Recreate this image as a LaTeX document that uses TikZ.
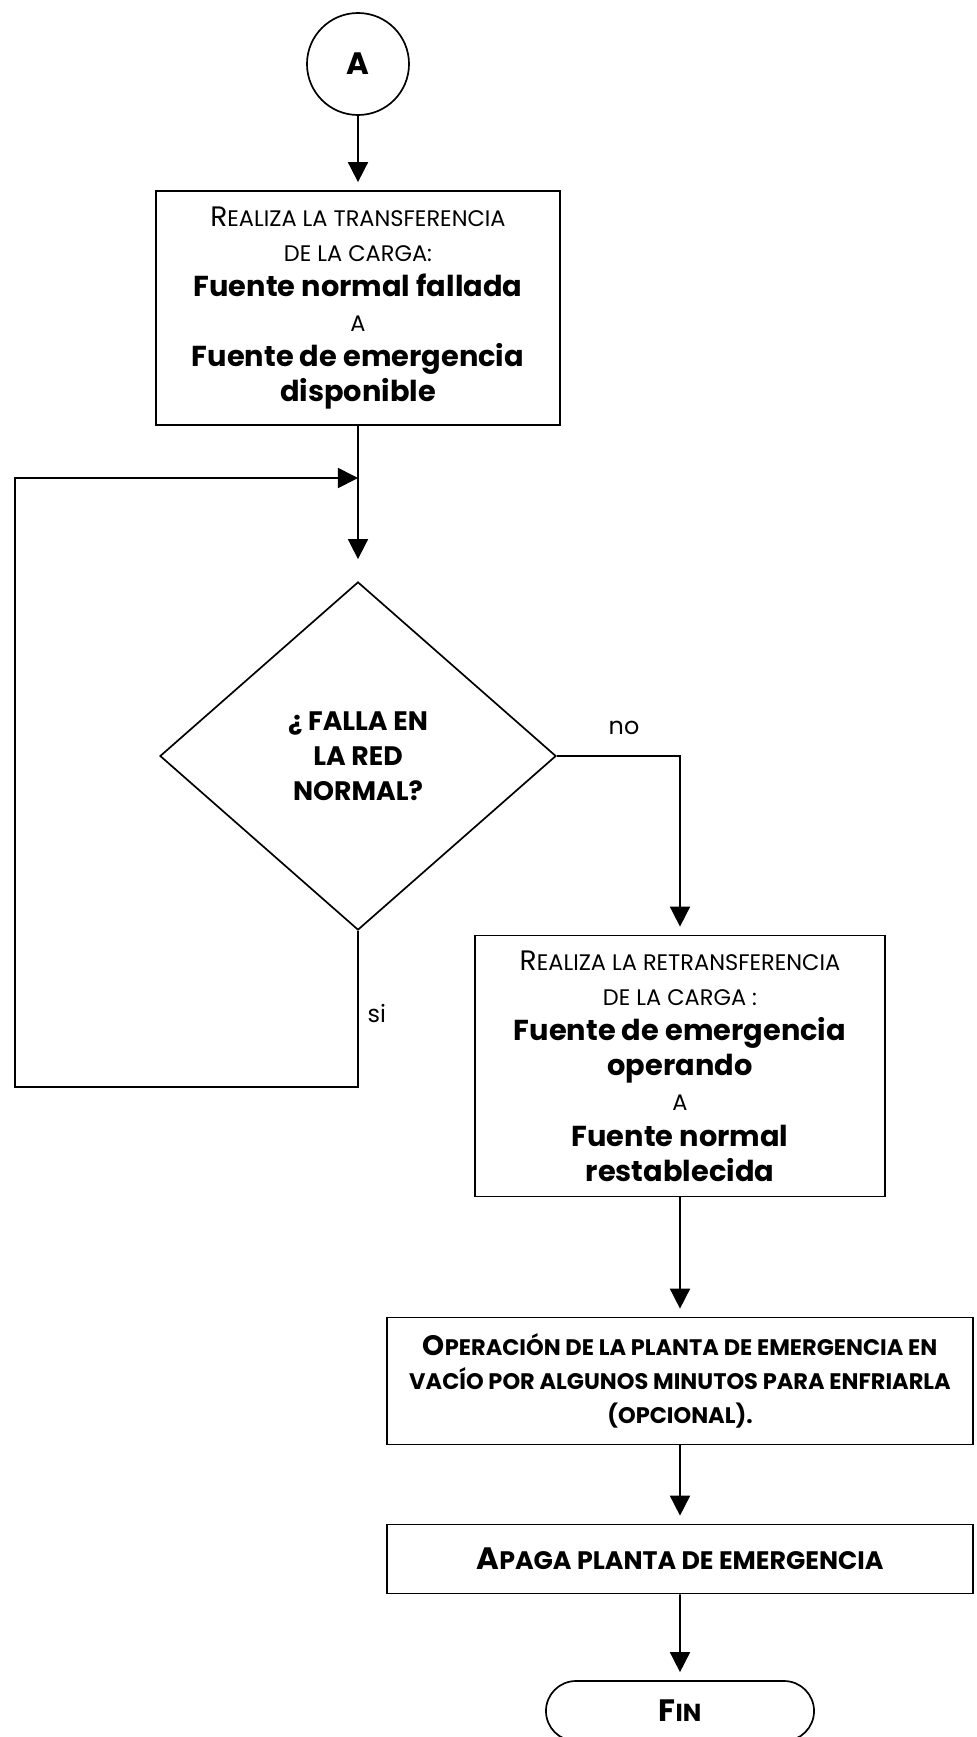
\documentclass[tikz,border=0pt]{standalone}
\usepackage{fontspec}
\setmainfont{Poppins}
\usetikzlibrary{shapes.geometric, shapes.misc, arrows.meta}

\newcommand{\grande}[1]{{\fontsize{20}{25}\selectfont #1}}
\newcommand{\chica}[1]{{\fontsize{16}{25}\selectfont #1}}
\newcommand{\negra}[1]{{\bfseries\fontsize{20.5}{25}\selectfont #1}}

\begin{document}
\begin{tikzpicture}[x=0.025cm, y=-0.025cm, line width=1.2pt,
    caja/.style={rectangle, draw, align=center, inner sep=0pt, font=\fontsize{18}{25}\selectfont},
    flecha/.style={-{Triangle[length=0.5cm,width=0.5cm]}, shorten >=0.2cm}]
    \useasboundingbox (0,0) rectangle (976,1737);

    % Draw nodes
    \node[circle, draw, minimum size=2.55cm, inner sep=0pt, font=\bfseries\fontsize{22}{24}\selectfont] (A) at (358,64) {A};
    \node[caja, minimum width=10.1cm, minimum height=5.85cm] (trans) at (358,308) {%
        \grande{R}\chica{EALIZA LA TRANSFERENCIA}\\
        \chica{DE LA CARGA:}\\
        \negra{Fuente normal fallada}\\
        \chica{A}\\
        \negra{Fuente de emergencia}\\
        \negra{disponible}};
    \node[diamond, draw, minimum width=9.9cm, minimum height=8.7cm, inner sep=0pt, align=center,
        font=\bfseries\fontsize{19}{25}\selectfont] (falla) at (358,756) {¿ FALLA EN\\LA RED\\NORMAL?};
    \node[caja, minimum width=10.25cm, minimum height=6.525cm] (retrans) at (680,1066) {%
        \grande{R}\chica{EALIZA LA RETRANSFERENCIA}\\
        \chica{DE LA CARGA :}\\
        \negra{Fuente de emergencia}\\
        \negra{operando}\\
        \chica{A}\\
        \negra{Fuente normal}\\
        \negra{restablecida}};
    \node[caja, minimum width=14.65cm, minimum height=3.175cm, font=\bfseries\fontsize{16}{24}\selectfont] (oper) at (680,1381) {%
        {\fontsize{20}{24}\selectfont O}PERACIÓN DE LA PLANTA DE EMERGENCIA EN\\
        VACÍO POR ALGUNOS MINUTOS PARA ENFRIARLA\\
        (OPCIONAL).};
    \node[caja, minimum width=14.65cm, minimum height=1.725cm, font=\bfseries\fontsize{18}{24}\selectfont] (apaga) at (680,1559) {%
        {\fontsize{22}{24}\selectfont A}PAGA PLANTA DE EMERGENCIA};
    \node[rounded rectangle, draw, minimum width=6.7cm, minimum height=1.5cm, inner sep=0pt,
        font=\bfseries\fontsize{17.5}{20}\selectfont] (fin) at (680,1711) {{\fontsize{22}{20}\selectfont F}IN};

    % Labels
    \node[right, font=\fontsize{17}{18}\selectfont] (si) at (362,1013) {si};
    \node[font=\fontsize{17}{18}\selectfont] (no) at (624,728) {no};

    % Loop corners
    \coordinate (esqA) at (15,1087);
    \coordinate (esqB) at (15,478);
    \coordinate (union) at (358,478);

    % Draw connections
    \draw[flecha] (A) -- (trans);
    \draw[flecha, shorten >=0.55cm] (trans) -- (falla);
    \draw[flecha, shorten >=0pt] (falla.south) |- (esqA) -- (esqB) -- (union);
    \draw[flecha] (falla.east) -| (retrans.north);
    \draw[flecha] (retrans) -- (oper);
    \draw[flecha] (oper) -- (apaga);
    \draw[flecha] (apaga) -- (fin);
\end{tikzpicture}
\end{document}
